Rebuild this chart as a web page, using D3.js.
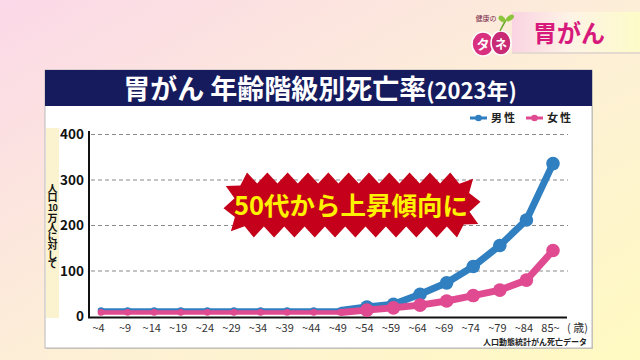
<!DOCTYPE html>
<html>
<head>
<meta charset="utf-8">
<script src="https://cdn.jsdelivr.net/npm/d3@7"></script>
<style>
  body { margin: 0; }
  svg { display: block; font-family: "Noto Sans CJK JP", "Noto Sans", sans-serif; }
</style>
</head>
<body>
<div id="chart"></div>
<script>
// values (deaths per 100,000)
const ageGroups = ["~4", "~9", "~14", "~19", "~24", "~29", "~34", "~39", "~44", "~49",
  "~54", "~59", "~64", "~69", "~74", "~79", "~84", "85~"];
const maleRate = [13, 13, 13, 13, 13, 13, 13, 13, 13, 13, 21, 27, 49, 74, 110, 156, 212, 336];
const femaleRate = [9, 9, 9, 9, 9, 9, 9, 9, 9, 9, 14, 19, 25, 34, 46, 58, 80, 145];
const yTicks = [0, 100, 200, 300, 400];
const seriesNames = ["男性", "女性"];

const width = 640;
const height = 360;
const colors = { male: '#2f7fc1', female: '#df4a91' };
const flatCount = 10; // points before the rise are drawn thinner

const svg = d3.select('#chart')
  .append('svg')
  .attr('width', width)
  .attr('height', height);

const defs = svg.append('defs');

const bg = defs.append('linearGradient')
  .attr('id', 'bg').attr('x1', 0).attr('y1', 0).attr('x2', 1).attr('y2', 1);
bg.append('stop').attr('offset', '0%').attr('stop-color', '#fbd8e8');
bg.append('stop').attr('offset', '55%').attr('stop-color', '#fdf0d6');
bg.append('stop').attr('offset', '100%').attr('stop-color', '#fffac2');

const band = defs.append('linearGradient')
  .attr('id', 'band').attr('x1', 0).attr('y1', 0).attr('x2', 1).attr('y2', 0);
band.append('stop').attr('offset', '0%').attr('stop-color', '#fad3e2');
band.append('stop').attr('offset', '45%').attr('stop-color', '#fdf3e6');
band.append('stop').attr('offset', '100%').attr('stop-color', '#fdfbc8');

svg.append('rect')
  .attr('width', width)
  .attr('height', height)
  .attr('fill', 'url(#bg)');

// top right tag
svg.append('rect')
  .attr('x', 512).attr('y', 14)
  .attr('width', 128).attr('height', 40)
  .attr('fill', '#e6d9cf');
svg.append('rect')
  .attr('x', 512).attr('y', 12)
  .attr('width', 128).attr('height', 40)
  .attr('fill', 'url(#band)');

svg.append('text')
  .attr('x', 533).attr('y', 42)
  .attr('font-size', 24)
  .attr('font-weight', 'bold')
  .attr('fill', '#d8197c')
  .text('胃がん');

// little logo
const logo = svg.append('g');
logo.append('ellipse')
  .attr('cx', 483).attr('cy', 44).attr('rx', 11).attr('ry', 12)
  .attr('fill', '#d9307f').attr('stroke', '#fff').attr('stroke-width', 1.5);
logo.append('ellipse')
  .attr('cx', 501).attr('cy', 43).attr('rx', 10).attr('ry', 12)
  .attr('fill', '#c92a76').attr('stroke', '#fff').attr('stroke-width', 1.5);
logo.append('text')
  .attr('x', 483).attr('y', 49).attr('text-anchor', 'middle')
  .attr('font-size', 13).attr('font-weight', 'bold').attr('fill', '#fff')
  .text('タ');
logo.append('text')
  .attr('x', 501).attr('y', 49).attr('text-anchor', 'middle')
  .attr('font-size', 12).attr('font-weight', 'bold').attr('fill', '#fff')
  .text('ネ');
logo.append('path')
  .attr('d', 'M500,31 Q503,25 506,20')
  .attr('fill', 'none').attr('stroke', '#6aa82c').attr('stroke-width', 1.5);
logo.append('ellipse')
  .attr('cx', 502).attr('cy', 19).attr('rx', 4).attr('ry', 2.5)
  .attr('transform', 'rotate(40,502,19)').attr('fill', '#8cc43c');
logo.append('ellipse')
  .attr('cx', 510).attr('cy', 18).attr('rx', 4.5).attr('ry', 2.5)
  .attr('transform', 'rotate(-35,510,18)').attr('fill', '#8cc43c');
logo.append('text')
  .attr('x', 486).attr('y', 21).attr('text-anchor', 'middle')
  .attr('font-size', 7).attr('fill', '#7a2a4a')
  .text('健康の');

// chart panel
svg.append('rect')
  .attr('x', 46).attr('y', 71)
  .attr('width', 547).attr('height', 278)
  .attr('fill', '#cfc8b8');
svg.append('rect')
  .attr('x', 45).attr('y', 70)
  .attr('width', 547).attr('height', 278)
  .attr('fill', '#fff')
  .attr('stroke', '#b9b9b9')
  .attr('stroke-width', 1);

svg.append('rect')
  .attr('x', 45).attr('y', 70)
  .attr('width', 547).attr('height', 36)
  .attr('fill', '#161b5d');

const title = svg.append('text')
  .attr('x', 320).attr('y', 99)
  .attr('text-anchor', 'middle')
  .attr('fill', '#fff')
  .attr('font-weight', 'bold');
title.append('tspan').attr('font-size', 27).text('胃がん 年齢階級別死亡率');
title.append('tspan').attr('font-size', 22).text('(2023年)');

// y label strip, written top to bottom
svg.append('rect')
  .attr('x', 46).attr('y', 128)
  .attr('width', 13).attr('height', 190)
  .attr('fill', '#fbf3cf');

const yLabel = svg.append('g')
  .attr('font-size', 10)
  .attr('font-weight', 'bold')
  .attr('fill', '#111');
yLabel.append('text')
  .attr('x', 52.5).attr('y', 183)
  .style('writing-mode', 'vertical-rl')
  .attr('letter-spacing', -0.6)
  .text('人口');
yLabel.append('text')
  .attr('x', 52.5).attr('y', 211)
  .attr('text-anchor', 'middle')
  .attr('font-size', 9)
  .attr('letter-spacing', -0.5)
  .text('10');
yLabel.append('text')
  .attr('x', 52.5).attr('y', 213)
  .style('writing-mode', 'vertical-rl')
  .attr('letter-spacing', -0.8)
  .text('万人に対して');

// scales
const x = d3.scalePoint()
  .domain(ageGroups)
  .range([101, 553]);

const y = d3.scaleLinear()
  .domain([0, 400])
  .range([316.5, 134.5]);

// grid
svg.append('g')
  .selectAll('line')
  .data(yTicks.filter(t => t > 0))
  .join('line')
  .attr('x1', 91).attr('x2', 568)
  .attr('y1', d => y(d)).attr('y2', d => y(d))
  .attr('stroke', '#8a8a8a')
  .attr('stroke-width', 1.2)
  .attr('stroke-dasharray', '4,3');

// y axis
const yAxis = svg.append('g')
  .attr('transform', 'translate(89,0)')
  .call(d3.axisLeft(y).tickValues(yTicks).tickSize(0).tickPadding(5));
yAxis.select('.domain').remove();
yAxis.selectAll('text')
  .attr('font-size', 13.5)
  .attr('font-weight', 'bold')
  .attr('fill', '#111')
  .attr('font-family', '"Noto Sans CJK JP", sans-serif');

svg.append('line')
  .attr('x1', 89).attr('x2', 89)
  .attr('y1', 131).attr('y2', 317.5)
  .attr('stroke', '#111').attr('stroke-width', 2);

// x axis
const xAxis = svg.append('g')
  .attr('transform', 'translate(-3,317.5)')
  .call(d3.axisBottom(x).tickSize(0).tickPadding(7));
xAxis.select('.domain').remove();
xAxis.selectAll('text')
  .attr('font-size', 11)
  .attr('fill', '#333')
  .attr('font-family', '"Noto Sans CJK JP", sans-serif');

svg.append('line')
  .attr('x1', 88).attr('x2', 567)
  .attr('y1', 317.5).attr('y2', 317.5)
  .attr('stroke', '#111').attr('stroke-width', 2);

svg.append('text')
  .attr('x', 567).attr('y', 332)
  .attr('font-size', 11)
  .attr('fill', '#333')
  .text('( 歳)');

svg.append('text')
  .attr('x', 587).attr('y', 345)
  .attr('text-anchor', 'end')
  .attr('font-size', 8)
  .attr('font-weight', 'bold')
  .attr('fill', '#222')
  .text('人口動態統計がん死亡データ');

// lines
const line = d3.line()
  .x(d => x(d.age))
  .y(d => y(d.v));

function drawSeries(values, color) {
  const pts = values.map((v, i) => ({ age: ageGroups[i], v: v, i: i }));
  const g = svg.append('g');
  g.append('path')
    .datum(pts.slice(0, flatCount))
    .attr('d', line)
    .attr('fill', 'none')
    .attr('stroke', color)
    .attr('stroke-width', 4.5);
  g.append('path')
    .datum(pts.slice(flatCount - 1))
    .attr('d', line)
    .attr('fill', 'none')
    .attr('stroke', color)
    .attr('stroke-width', 7)
    .attr('stroke-linejoin', 'round');
  g.selectAll('circle')
    .data(pts)
    .join('circle')
    .attr('cx', d => x(d.age))
    .attr('cy', d => y(d.v))
    .attr('r', d => d.i < flatCount ? 3.3 : 6.8)
    .attr('fill', color);
}

drawSeries(maleRate, colors.male);
drawSeries(femaleRate, colors.female);

// legend
[colors.male, colors.female].forEach((c, i) => {
  const lx = 470 + i * 56;
  svg.append('line')
    .attr('x1', lx).attr('x2', lx + 17)
    .attr('y1', 118).attr('y2', 118)
    .attr('stroke', c).attr('stroke-width', 3);
  svg.append('circle')
    .attr('cx', lx + 8.5).attr('cy', 118).attr('r', 3.3)
    .attr('fill', c);
  svg.append('text')
    .attr('x', lx + 21).attr('y', 122)
    .attr('font-size', 11)
    .attr('font-weight', 'bold')
    .attr('letter-spacing', 2)
    .attr('fill', '#222')
    .text(seriesNames[i]);
});

// callout burst
function burstPath(cx, cy, hw, hh, r, n, depth) {
  const sx = 2 * (hw - r), sy = 2 * (hh - r), arc = Math.PI * r / 2;
  const segs = [sx, arc, sy, arc, sx, arc, sy, arc];
  const total = d3.sum(segs);
  function pointAt(s) {
    // walk round the rounded rect clockwise from the top-left straight start
    let k = 0;
    while (s > segs[k]) { s -= segs[k]; k = (k + 1) % 8; }
    const corners = [
      [cx + hw - r, cy - hh + r], [cx + hw - r, cy + hh - r],
      [cx - hw + r, cy + hh - r], [cx - hw + r, cy - hh + r]
    ];
    if (k === 0) return [cx - hw + r + s, cy - hh, 0, -1];
    if (k === 2) return [cx + hw, cy - hh + r + s, 1, 0];
    if (k === 4) return [cx + hw - r - s, cy + hh, 0, 1];
    if (k === 6) return [cx - hw, cy + hh - r - s, -1, 0];
    const c = corners[(k - 1) / 2];
    const a0 = [-Math.PI / 2, 0, Math.PI / 2, Math.PI][(k - 1) / 2];
    const a = a0 + s / r;
    return [c[0] + r * Math.cos(a), c[1] + r * Math.sin(a), Math.cos(a), Math.sin(a)];
  }
  const pts = [];
  for (let i = 0; i < n * 2; i++) {
    const p = pointAt(total * i / (n * 2) + 0.001);
    const off = i % 2 === 0 ? depth / 2 : -depth / 2;
    pts.push([p[0] + p[2] * off, p[1] + p[3] * off]);
  }
  return d3.line()(pts) + 'Z';
}

svg.append('path')
  .attr('d', burstPath(352, 205, 123, 27, 18, 28, 11))
  .attr('fill', '#c5001b');

svg.append('text')
  .attr('x', 351).attr('y', 215)
  .attr('text-anchor', 'middle')
  .attr('font-size', 25.5)
  .attr('font-weight', 'bold')
  .attr('fill', '#fff200')
  .text('50代から上昇傾向に');
</script>
</body>
</html>
